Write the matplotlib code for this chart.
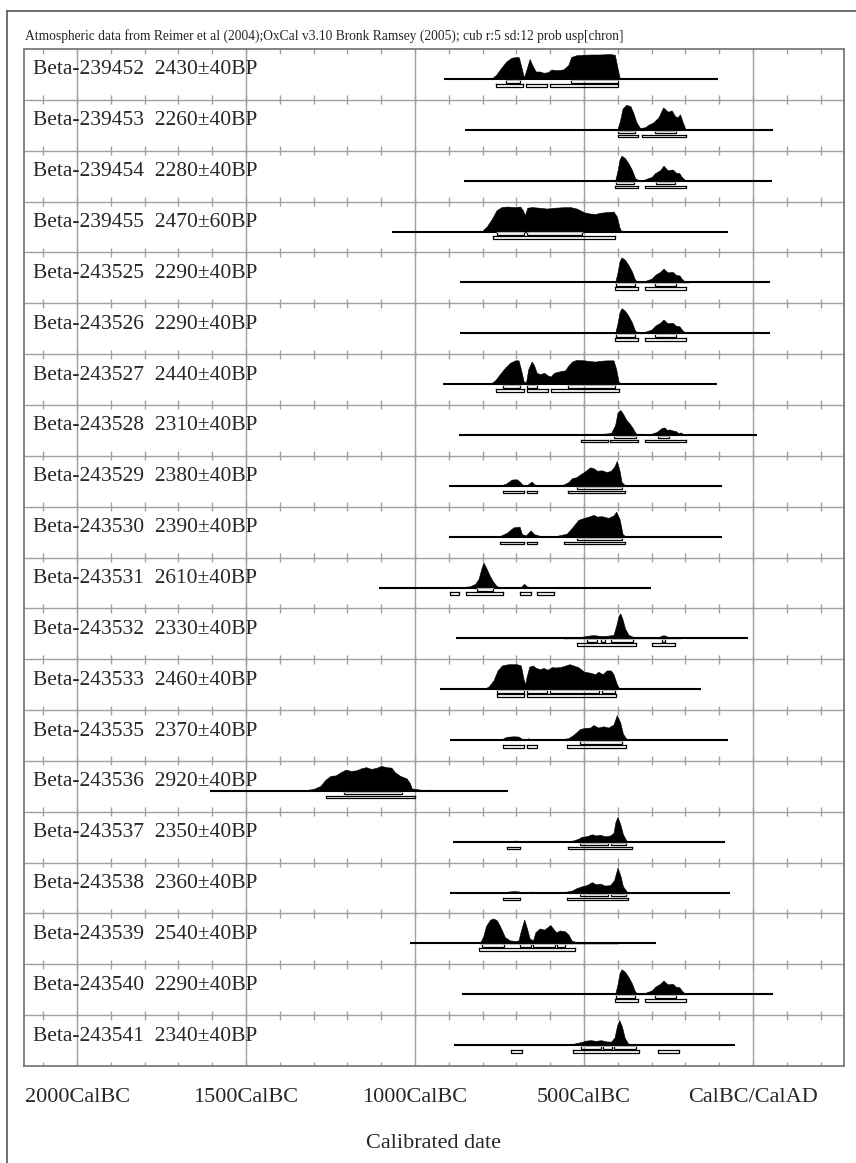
import numpy as np
import matplotlib.pyplot as plt
from matplotlib.lines import Line2D
from matplotlib import transforms

plt.rcParams['font.family'] = ['Liberation Serif', 'DejaVu Serif']

# sample names and radiocarbon determinations
labs = ["Beta-239452", "Beta-239453", "Beta-239454", "Beta-239455", "Beta-243525",
        "Beta-243526", "Beta-243527", "Beta-243528", "Beta-243529", "Beta-243530",
        "Beta-243531", "Beta-243532", "Beta-243533", "Beta-243535", "Beta-243536",
        "Beta-243537", "Beta-243538", "Beta-243539", "Beta-243540", "Beta-243541"]
ages = [2430, 2260, 2280, 2470, 2290, 2290, 2440, 2310, 2380, 2390,
        2610, 2330, 2460, 2370, 2920, 2350, 2360, 2540, 2290, 2340]
errs = [40, 40, 40, 60, 40, 40, 40, 40, 40, 40,
        40, 40, 40, 40, 40, 40, 40, 40, 40, 40]

# calibrated probability profiles (cal year, relative probability)
yr_239452 = [-775, -760, -745, -730, -715, -700, -693, -686, -678, -671, -661, -653, -643, -631, -620,
             -607, -597, -582, -562, -547, -538, -523, -503, -478, -454, -424, -409, -402, -394]
pd_239452 = [0, .17, .45, .7, .85, .88, .87, .5, .06, .35, .8, .55, .3, .3, .25,
             .27, .38, .35, .38, .55, .88, .95, .97, .98, .98, 1.0, .97, .5, 0]

yr_239453 = [-402, -394, -386, -375, -363, -355, -345, -335, -320, -310, -295, -280, -266, -258,
             -251, -241, -231, -224, -216, -208, -200, -190]
pd_239453 = [0, .35, .85, 1.0, .95, .7, .3, .08, .1, .2, .3, .5, .9, .8,
             .72, .78, .55, .5, .62, .3, .03, 0]

yr_239454 = [-408, -401, -395, -389, -379, -369, -359, -349, -339, -324, -315, -300, -290, -275,
             -265, -253, -238, -228, -218, -211, -201, -190]
pd_239454 = [0, .4, .85, 1.0, .9, .7, .45, .1, .02, .03, .08, .15, .3, .42,
             .6, .42, .45, .32, .3, .15, .02, 0]

yr_239455 = [-803, -788, -773, -759, -744, -729, -704, -689, -681, -675, -668, -655, -630, -610,
             -591, -566, -541, -522, -500, -482, -467, -453, -433, -413, -403, -395, -389]
pd_239455 = [0, .2, .5, .85, .98, 1.0, .98, 1.0, .85, .65, .95, .98, .95, .92,
             .95, .97, .98, .92, .77, .72, .7, .75, .78, .8, .6, .15, 0]

# 2290 +/- 40 BP (Beta-243525, -243526, -243540)
yr_2290 = [-408, -401, -395, -389, -379, -369, -359, -349, -339, -324, -315, -300, -290, -275,
           -265, -253, -238, -228, -218, -211, -201, -190]
pd_2290 = [0, .4, .85, 1.0, .9, .7, .45, .1, .02, .03, .08, .15, .3, .42,
           .55, .4, .42, .3, .28, .15, .02, 0]

yr_243527 = [-778, -763, -749, -734, -719, -704, -694, -687, -679, -672, -665, -655, -648, -640,
             -630, -618, -608, -599, -589, -576, -556, -546, -536, -522, -500, -482, -467, -453,
             -433, -413, -405, -398, -391]
pd_243527 = [0, .15, .4, .65, .85, .95, .95, .6, .12, .05, .6, .9, .75, .45,
             .4, .45, .35, .3, .45, .5, .55, .75, .9, .97, .95, .92, .9, .93,
             .95, .95, .6, .1, 0]

yr_243528 = [-620, -560, -500, -440, -420, -408, -401, -393, -385, -375, -365, -355, -348, -340,
             -320, -300, -285, -270, -262, -255, -248, -238, -228, -222, -214, -205, -190]
pd_243528 = [0, .02, .03, .05, .08, .4, .9, 1.0, .85, .6, .45, .25, .08, .03,
             .02, .05, .12, .28, .3, .2, .22, .18, .15, .08, .1, .02, 0]

yr_243529 = [-749, -729, -714, -699, -689, -681, -670, -662, -655, -647, -630, -591, -561, -546,
             -536, -522, -512, -500, -482, -472, -461, -448, -433, -421, -411, -403, -395, -389,
             -379, -365]
pd_243529 = [0, .1, .25, .26, .15, .02, .02, .1, .17, .05, .02, .02, .05, .15,
             .3, .35, .45, .55, .74, .7, .6, .62, .55, .6, .75, 1.0, .6, .15,
             .02, 0]

yr_243530 = [-753, -729, -709, -691, -684, -672, -658, -648, -630, -581, -551, -536, -517, -500,
             -482, -472, -461, -448, -428, -413, -405, -395, -386, -376]
pd_243530 = [0, .15, .37, .4, .1, .05, .25, .1, .03, .03, .12, .35, .67, .75,
             .82, .87, .8, .82, .75, .85, 1.0, .7, .1, 0]

yr_243531 = [-896, -866, -837, -822, -812, -805, -798, -790, -780, -770, -758, -743, -689, -682,
             -678, -670, -660, -630, -601, -570, -540]
pd_243531 = [0, .01, .05, .15, .35, .7, 1.0, .8, .5, .25, .05, 0, 0, .08,
             .15, .05, .01, .02, .02, .01, 0]

yr_243532 = [-560, -532, -512, -492, -472, -453, -433, -413, -405, -398, -393, -387, -379, -369,
             -359, -344, -315, -280, -265, -250, -230, -215]
pd_243532 = [0, .01, .05, .1, .13, .1, .1, .14, .5, .9, 1.0, .8, .4, .15,
             .08, .02, .02, .05, .13, .05, .02, 0]

yr_243533 = [-798, -783, -768, -756, -743, -724, -699, -687, -679, -674, -670, -662, -652, -642,
             -630, -620, -608, -596, -581, -566, -543, -532, -517, -500, -482, -467, -458, -445,
             -433, -421, -413, -403, -395]
pd_243533 = [0, .1, .35, .75, .95, 1.0, 1.0, .95, .4, .2, .5, .9, .95, .85,
             .8, .85, .78, .88, .87, .9, 1.0, .95, .88, .7, .66, .6, .7, .6,
             .75, .75, .6, .2, 0]

yr_243535 = [-749, -729, -709, -694, -684, -675, -665, -658, -640, -571, -546, -532, -512, -500,
             -482, -472, -458, -443, -428, -413, -403, -393, -385, -375, -360]
pd_243535 = [0, .13, .15, .14, .05, .02, .07, .03, .01, .02, .08, .2, .44, .48,
             .5, .6, .5, .55, .5, .62, 1.0, .7, .25, .05, 0]

yr_243536 = [-1400, -1360, -1330, -1300, -1280, -1265, -1250, -1235, -1220, -1205, -1190, -1175,
             -1160, -1145, -1130, -1115, -1100, -1085, -1070, -1060, -1044, -1025, -1015, -1010,
             -995, -975, -956, -930, -880]
pd_243536 = [0, .01, .02, .08, .2, .45, .6, .62, .75, .85, .8, .82,
             .9, .95, .88, .92, 1.0, .95, .93, .75, .6, .5, .3, .1,
             .07, .03, .05, .02, 0]

yr_243537 = [-729, -715, -704, -690, -665, -655, -645, -560, -532, -517, -507, -492, -477, -465,
             -453, -438, -423, -413, -407, -401, -393, -385, -375, -360, -280, -265, -250]
pd_243537 = [0, .03, .05, .02, .01, .03, .01, .01, .05, .12, .2, .22, .3, .25,
             .28, .22, .25, .35, .8, 1.0, .7, .3, .05, .01, .01, .02, 0]

yr_243538 = [-739, -724, -709, -695, -684, -665, -655, -645, -560, -536, -522, -507, -492, -477,
             -465, -453, -438, -423, -411, -401, -393, -385, -373, -355]
pd_243538 = [0, .04, .06, .05, .01, .01, .04, .01, .02, .08, .18, .25, .3, .42,
             .33, .36, .28, .3, .5, 1.0, .7, .25, .03, 0]

yr_243539 = [-808, -798, -790, -778, -768, -758, -749, -734, -719, -704, -694, -687, -677, -669,
             -661, -651, -644, -631, -618, -608, -600, -592, -583, -571, -556, -546, -536, -522,
             -505, -463, -423, -400]
pd_243539 = [0, .3, .7, .95, 1.0, .92, .7, .25, .12, .1, .12, .5, .96, .6,
             .2, .12, .45, .6, .55, .65, .74, .6, .45, .52, .48, .35, .1, .06,
             .03, .02, .03, 0]

yr_243541 = [-720, -700, -680, -600, -560, -530, -510, -495, -480, -465, -450, -435, -420, -410,
             -402, -396, -388, -380, -370, -355, -300, -280, -262, -250, -235]
pd_243541 = [0, .03, .01, .01, .02, .06, .12, .18, .2, .17, .2, .15, .14, .3,
             .8, 1.0, .75, .3, .07, .02, .01, .02, .06, .04, 0]

profiles = [(yr_239452, pd_239452), (yr_239453, pd_239453), (yr_239454, pd_239454),
            (yr_239455, pd_239455), (yr_2290, pd_2290), (yr_2290, pd_2290),
            (yr_243527, pd_243527), (yr_243528, pd_243528), (yr_243529, pd_243529),
            (yr_243530, pd_243530), (yr_243531, pd_243531), (yr_243532, pd_243532),
            (yr_243533, pd_243533), (yr_243535, pd_243535), (yr_243536, pd_243536),
            (yr_243537, pd_243537), (yr_243538, pd_243538), (yr_243539, pd_243539),
            (yr_2290, pd_2290), (yr_243541, pd_243541)]

# extent of the calibration line under each distribution
line_start = [-913, -851, -855, -1069, -867, -867, -916, -869, -901, -901,
              -1106, -879, -926, -896, -1607, -889, -896, -1015, -861, -885]
line_end = [-105, 60, 55, -73, 50, 50, -107, 11, -93, -93,
            -303, -14, -155, -73, -725, -84, -68, -288, 59, -53]

# 68.2% and 95.4% ranges
r68 = [[(-732, -689), (-540, -399)],
       [(-399, -349), (-290, -228)],
       [(-405, -351), (-288, -231)],
       [(-758, -679), (-670, -507)],
       [(-405, -350), (-290, -229)],
       [(-405, -350), (-290, -229)],
       [(-739, -690), (-670, -640), (-548, -408)],
       [(-411, -346), (-280, -248)],
       [(-520, -389)],
       [(-520, -389)],
       [(-818, -768)],
       [(-492, -461), (-451, -438), (-421, -356), (-270, -260)],
       [(-757, -679), (-669, -611), (-601, -455), (-448, -408)],
       [(-512, -389)],
       [(-1210, -1040)],
       [(-512, -428), (-421, -377)],
       [(-512, -428), (-421, -377)],
       [(-803, -737), (-689, -658), (-652, -586), (-579, -556)],
       [(-405, -350), (-290, -229)],
       [(-508, -450), (-443, -417), (-411, -346)]]
r95 = [[(-760, -681), (-671, -610), (-600, -399)],
       [(-399, -339), (-329, -198)],
       [(-408, -339), (-320, -198)],
       [(-768, -408)],
       [(-408, -339), (-320, -198)],
       [(-408, -339), (-320, -198)],
       [(-760, -679), (-670, -608), (-599, -398)],
       [(-510, -428), (-422, -339), (-320, -198)],
       [(-739, -679), (-670, -638), (-549, -379)],
       [(-750, -679), (-670, -638), (-559, -379)],
       [(-898, -869), (-849, -739), (-689, -658), (-640, -589)],
       [(-520, -346), (-300, -231)],
       [(-757, -679), (-669, -405)],
       [(-739, -679), (-670, -638), (-551, -377)],
       [(-1265, -1000)],
       [(-729, -689), (-549, -359)],
       [(-740, -689), (-551, -369)],
       [(-810, -527)],
       [(-408, -339), (-320, -198)],
       [(-716, -683), (-532, -337), (-281, -219)]]

axis_years = [-2000, -1500, -1000, -500, 0]
axis_names = ["2000CalBC", "1500CalBC", "1000CalBC", "500CalBC", "CalBC/CalAD"]
header = ("Atmospheric data from Reimer et al (2004);OxCal v3.10 Bronk Ramsey (2005); "
          "cub r:5 sd:12 prob usp[chron]")

W, H = 856, 1163
fig = plt.figure(figsize=(W / 100, H / 100), dpi=100)
fig.patch.set_facecolor("white")

# plot frame in pixels
left, right, top, bottom = 24, 844, 49, 1066
ax = fig.add_axes([left / W, 1 - bottom / H, (right - left) / W, (bottom - top) / H])
x0, x1 = -2157, 269
nrow = len(labs)
ax.set_xlim(x0, x1)
ax.set_ylim(nrow, 0)
ax.set_xticks([])
ax.set_yticks([])
for sp in ax.spines.values():
    sp.set_color("#7a7a7a")
    sp.set_linewidth(1.3)

row_px = (bottom - top) / nrow
grey = "#a0a0a0"

ax.vlines(axis_years, 0, nrow, color=grey, lw=1.0, zorder=1)
ax.hlines(np.arange(1, nrow), x0, x1, color=grey, lw=1.0, zorder=1)
tick_years = np.arange(-2100, 201, 100)
tl = 4.5 / row_px
for k in range(nrow + 1):
    ax.vlines(tick_years, k - tl, k + tl, color=grey, lw=1.0, zorder=1)

base_off = 30 / row_px
peak_h = 25 / row_px
off68 = 3.5 / row_px
off95 = 7.5 / row_px
bh = 2.6 / row_px


def bracket(a, b, y, heavy):
    # open range bar: end ticks pointing up, paler top edge
    ax.plot([a, a, b, b], [y - bh, y, y, y - bh], color="black", lw=0.9,
            solid_joinstyle="miter", zorder=4)
    ax.plot([a, b], [y - bh, y - bh], color="black" if heavy else "#b0b0b0",
            lw=0.9 if heavy else 0.8, zorder=4)


for i in range(nrow):
    base = i + base_off
    yr, pd = profiles[i]
    yr = np.asarray(yr, dtype=float)
    pd = np.asarray(pd, dtype=float)
    ax.fill_between(yr, base, base - pd * peak_h, color="black", lw=0.4, zorder=3)
    ax.hlines(base, line_start[i], line_end[i], color="black", lw=1.5, zorder=3)
    for a, b in r68[i]:
        bracket(a, b, base + off68, False)
    for a, b in r95[i]:
        bracket(a, b, base + off95, True)
    ax.text(-2130, i + 21 / row_px, "%s  %d\u00b1%dBP" % (labs[i], ages[i], errs[i]),
            fontsize=15.5, color="#262626", va="center", ha="left", zorder=5)

# axis labels under the frame
trans = transforms.blended_transform_factory(ax.transData, fig.transFigure)
for yv, name in zip(axis_years, axis_names):
    ax.text(yv, 1 - 1097 / H, name, transform=trans, ha="center", va="center",
            fontsize=16, color="#262626", clip_on=False)
fig.text((left + right) / 2 / W, 1 - 1143 / H, "Calibrated date", ha="center",
         va="center", fontsize=16, color="#262626")

# run information line, stretched to its printed width
ht = fig.text(25 / W, 1 - 36 / H, header, ha="left", va="center", fontsize=10,
              color="#262626")
fig.canvas.draw()
wpx = ht.get_window_extent().width
ht.set_fontsize(10 * 598 / wpx)

# outer page border
fig.add_artist(Line2D([7 / W, 7 / W], [0, 1 - 11 / H], color="#555555", lw=1.2,
                      transform=fig.transFigure))
fig.add_artist(Line2D([7 / W, 1], [1 - 11 / H, 1 - 11 / H], color="#555555", lw=1.2,
                      transform=fig.transFigure))

fig.savefig("out.png", dpi=100)
